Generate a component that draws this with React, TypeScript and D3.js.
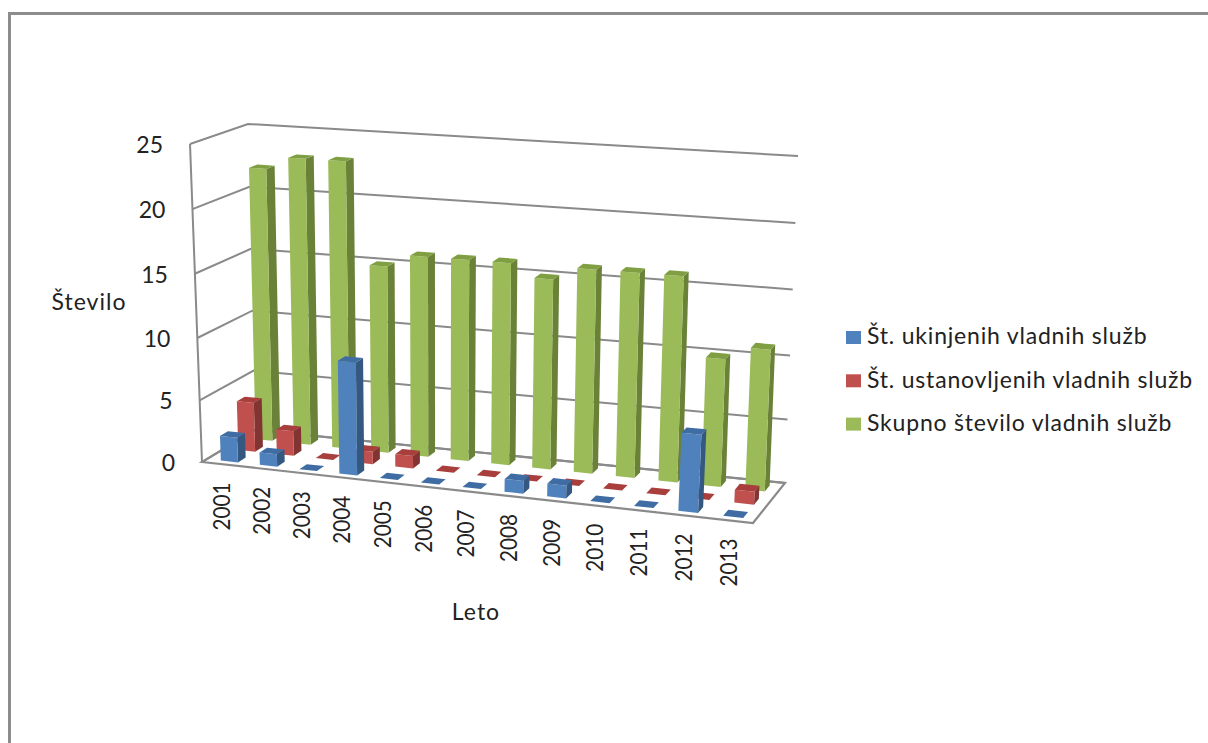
import React from "react";
import * as d3 from "d3";

const years = ["2001","2002","2003","2004","2005","2006","2007","2008","2009","2010","2011","2012","2013"];
const abolished = [2,1,0,9,0,0,0,1,1,0,0,6,0];
const established = [4,2,0,1,1,0,0,0,0,0,0,0,1];
const total = [22,23,23,15,16,16,16,15,16,16,16,10,11];
const valueTicks = [0,5,10,15,20,25];
const seriesNames = ["Št. ukinjenih vladnih služb","Št. ustanovljenih vladnih služb","Skupno število vladnih služb"];

type Pt = [number, number];

const palette = [
  { front: "#4F81BD", side: "#34587F", top: "#3E6CA3" },
  { front: "#C0504D", side: "#823432", top: "#A83F3C" },
  { front: "#9BBB59", side: "#6A8238", top: "#7F9F42" },
];

// Bilinear map of the unit square onto a quadrilateral with corners (0,0), (1,0), (1,1), (0,1).
function quadMap(p00: Pt, p10: Pt, p11: Pt, p01: Pt) {
  return (u: number, v: number): Pt => {
    const front = [p00[0] + (p10[0] - p00[0]) * u, p00[1] + (p10[1] - p00[1]) * u];
    const back = [p01[0] + (p11[0] - p01[0]) * u, p01[1] + (p11[1] - p01[1]) * u];
    return [front[0] + (back[0] - front[0]) * v, front[1] + (back[1] - front[1]) * v];
  };
}

const floorMap = quadMap([202, 462], [753, 523], [785, 483], [255, 430]);
const ceilMap = quadMap([190, 144], [771, 185], [798, 156], [248, 124]);

// Mild foreshortening along the category axis: columns spread apart towards the right.
const foreshorten = 0.92;
const warpU = (u: number) => (foreshorten * u) / (1 + (foreshorten - 1) * u);

const xBand = d3.scaleBand<string>().domain(years).range([0.003, 1.003]).paddingInner(0.56).paddingOuter(0.32);
const depthBand = d3.scaleBand<string>().domain(seriesNames).range([0, 1]).paddingInner(0.55).paddingOuter(0.28);
const zScale = d3.scaleLinear().domain(valueTicks).range([0, 0.194, 0.39, 0.592, 0.795, 1]);

function project(u: number, v: number, value: number): Pt {
  const uw = warpU(u);
  const a = floorMap(uw, v), b = ceilMap(uw, v), t = zScale(value);
  return [a[0] + (b[0] - a[0]) * t, a[1] + (b[1] - a[1]) * t];
}

const poly = d3.line<Pt>().curve(d3.curveLinearClosed);
const stroke = d3.line<Pt>();

const font = "Lato, 'Open Sans', sans-serif";
const ink = "#222";

function Bar({ u0, u1, v0, v1, value, colors }: any) {
  const top = (
    <path d={poly([project(u0, v0, value), project(u1, v0, value), project(u1, v1, value), project(u0, v1, value)])!} fill={colors.top} />
  );
  if (value === 0) return top;
  return (
    <g>
      <path d={poly([project(u1, v0, 0), project(u1, v1, 0), project(u1, v1, value), project(u1, v0, value)])!} fill={colors.side} />
      <path d={poly([project(u0, v0, 0), project(u1, v0, 0), project(u1, v0, value), project(u0, v0, value)])!} fill={colors.front} />
      {top}
    </g>
  );
}

export default function App() {
  const seriesValues = [abolished, established, total];
  const w = xBand.bandwidth();
  const dv = depthBand.bandwidth();
  const gridStyle = { fill: "none", stroke: "#8A8A8A", strokeWidth: 2 };
  return (
    <svg width={1208} height={743} style={{ position: "absolute", left: 0, top: 0, display: "block", background: "#fff" }}>
      {/* outer frame, open on the right and bottom */}
      <path d="M9.5 743V13.5H1208" fill="none" stroke="#8C8C8C" strokeWidth={3} />

      {/* side wall and back wall grid */}
      <path d={stroke([project(0, 0, 0), project(0, 0, 25)])!} {...gridStyle} />
      {valueTicks.map((t) => (
        <path key={t} d={stroke([project(0, 0, t), project(0, 1, t), project(1, 1, t)])!} {...gridStyle} />
      ))}
      {/* floor */}
      <path d={poly([project(0, 0, 0), project(1, 0, 0), project(1, 1, 0), project(0, 1, 0)])!} fill="#fff" {...gridStyle} strokeWidth={2.2} />

      {/* rows painted back to front */}
      {[2, 1, 0].map((row) => {
        const v0 = depthBand(seriesNames[row])!;
        return (
          <g key={row}>
            {years.map((y, i) => {
              const u0 = xBand(y)!;
              return <Bar key={y} u0={u0} u1={u0 + w} v0={v0} v1={v0 + dv} value={seriesValues[row][i]} colors={palette[row]} />;
            })}
          </g>
        );
      })}

      {/* value axis labels */}
      {valueTicks.map((t) => {
        const [x, y] = project(0, 0, t);
        return (
          <text key={t} x={x - 27} y={y + 3} textAnchor="end" dominantBaseline="middle" fontFamily={font} fontSize={23} fill={ink}>
            {t}
          </text>
        );
      })}

      {/* year labels sit below the front edge, aligned with the front row of columns */}
      {years.map((y) => {
        const uc = xBand(y)! + w / 2;
        const [x] = project(uc, depthBand(seriesNames[0])! + dv / 2, 0);
        const [, edgeY] = project(uc, 0, 0);
        return (
          <text key={y} transform={`translate(${x - 9 + 5 * uc},${edgeY + 66}) rotate(-90)`} textLength={48} lengthAdjust="spacingAndGlyphs" dominantBaseline="middle" fontFamily={font} fontSize={23} fill={ink}>
            {y}
          </text>
        );
      })}

      <text x={89} y={304} textAnchor="middle" dominantBaseline="middle" fontFamily={font} fontSize={23} letterSpacing={1} fill={ink}>Število</text>
      <text x={476} y={614} textAnchor="middle" dominantBaseline="middle" fontFamily={font} fontSize={23} letterSpacing={1} fill={ink}>Leto</text>

      {/* legend */}
      {seriesNames.map((name, i) => {
        const cy = 337.5 + i * 43.3;
        return (
          <g key={name}>
            <rect x={846} y={cy - 6.5} width={15} height={13} fill={palette[i].front} />
            <text x={867} y={cy + 1} dominantBaseline="middle" fontFamily={font} fontSize={23} letterSpacing={0.8} fill={ink}>{name}</text>
          </g>
        );
      })}
    </svg>
  );
}
